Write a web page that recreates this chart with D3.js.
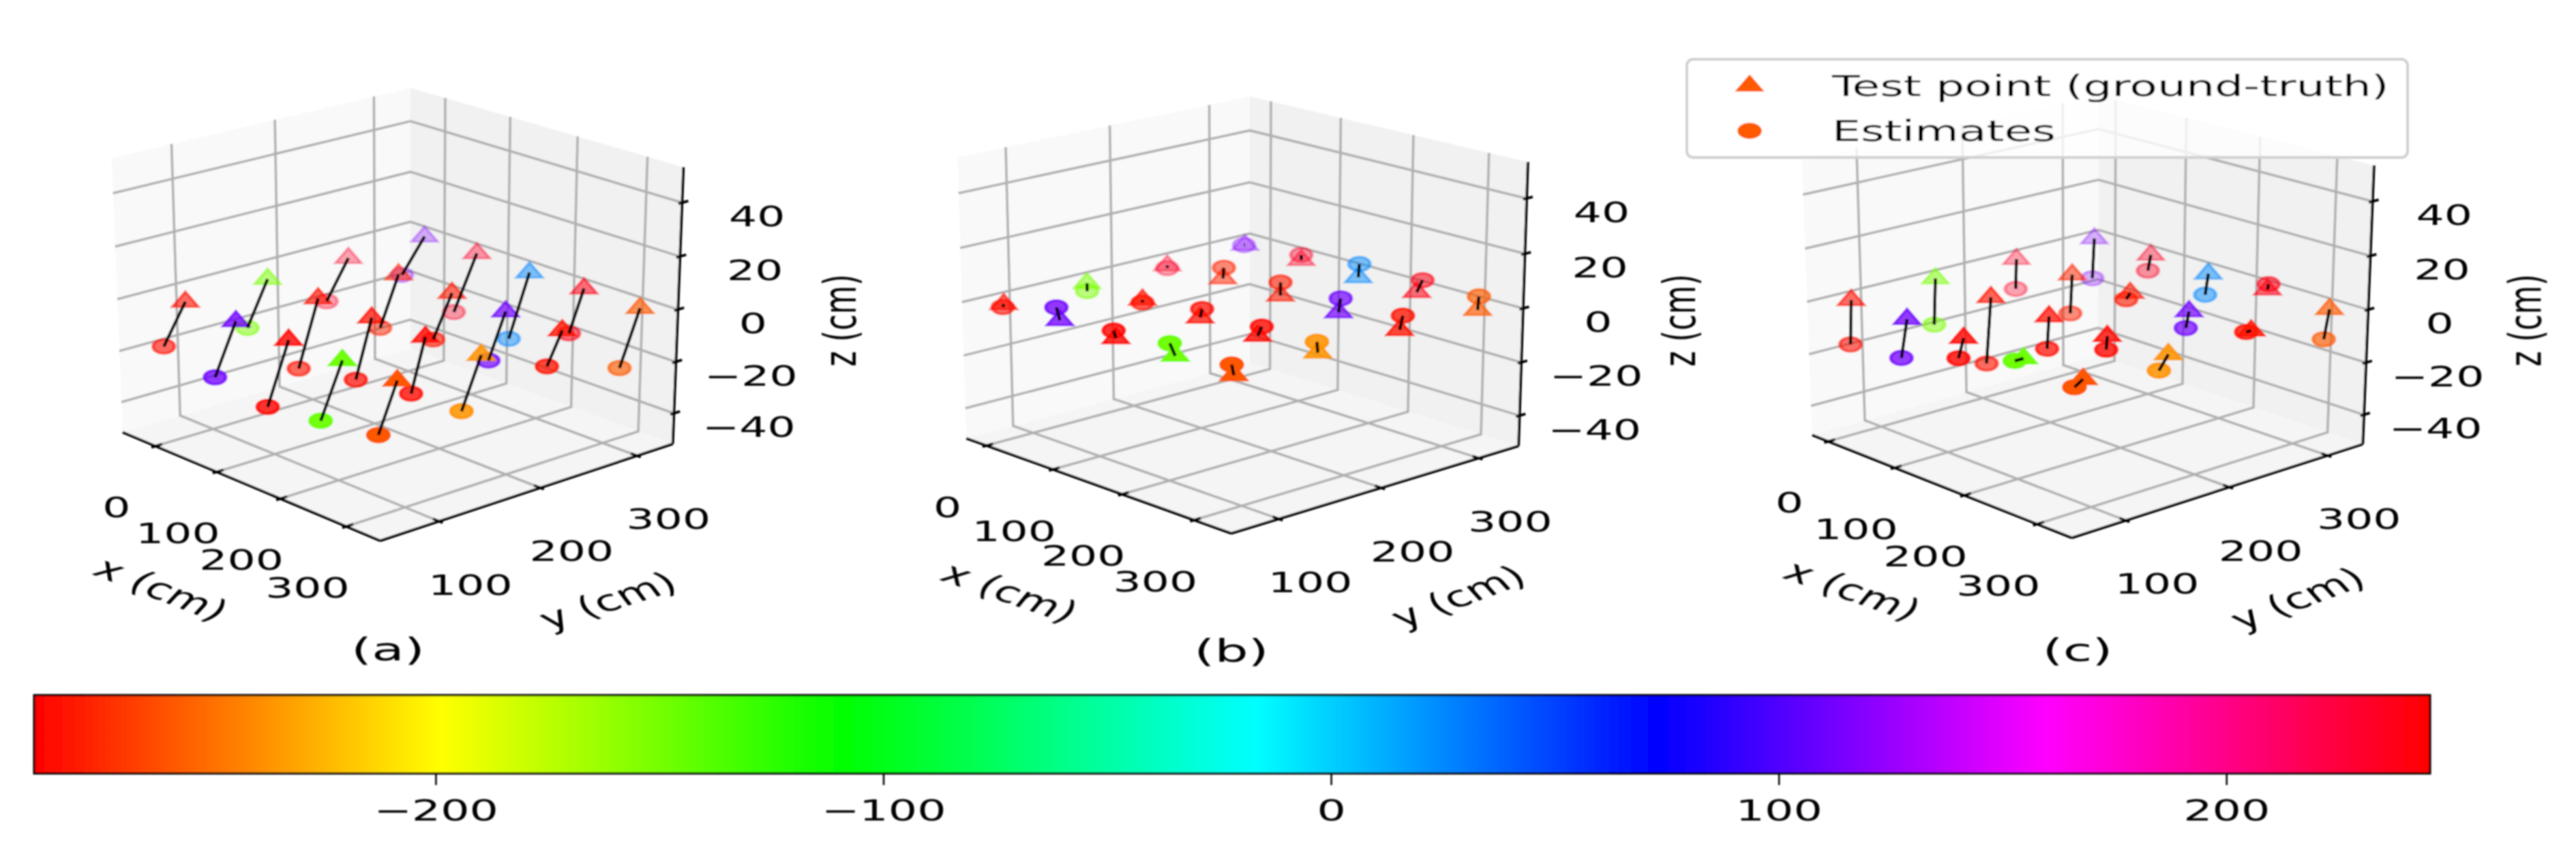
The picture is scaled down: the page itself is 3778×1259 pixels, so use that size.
<!DOCTYPE html>
<html>
<head>
<meta charset="utf-8">
<style>
  body { margin: 0; background: #fff; }
  text { font-family: "DejaVu Sans"; font-size: 41px; fill: #000; }
</style>
<script src="https://cdn.jsdelivr.net/npm/d3@7"></script>
</head>
<body>
<div id="chart"></div>
<script>
// test points, cm
var truthX = [-42,74,135,236,298, -37,67,144,213,285, -62,56,133,214,290, -38,44,130,201,286];
var truthY = [101,81,94,82,94, 179,165,169,177,184, 277,253,257,257,262, 342,343,340,348,346];
var truthZ = [-6,-1,-4,-1,-4, -5,-2,-3,-5,-6, -9,-3,-4,-4,-5, -5,-5,-5,-6,-6];

// estimates per panel (x is taken from the test point)
var estY = {
	a: [79,60,73,61,76, 158,145,153,163,165, 254,234,238,240,247, 318,319,319,333,326],
	b: [100,78,92,77,92, 179,165,171,181,183, 277,254,257,259,265, 341,343,341,354,347],
	c: [99,75,89,74,86, 177,160,167,176,175, 276,251,253,254,257, 340,340,337,349,341]
};
var estZ = {
	a: [-21,-20,-27,-21,-22, -22,-27,-25,-25,-25, -24,-22,-20,-21,-17, -18,-26,-29,-22,-27],
	b: [-7,4,-1,4,0, -8,-3,0,-2,-2, -10,1,1,1,0, -5,-3,0,-2,-1],
	c: [-23,-15,-11,-1,-6, -23,-27,-15,-10,-11, -21,-18,-6,-10,-5, -21,-11,-13,-4,-17]
};

// colour of each point, read on the colourbar
var pointValues = [-285,112,-288,-147,-259, -152,-283,-285,-287,-237, 232,-277,-280,112,-283, 118,232,25,238,-257];

var xTicks = [0, 100, 200, 300];
var yTicks = [100, 200, 300];
var zTicks = [-40, -20, 0, 20, 40];
var barTicks = [-200, -100, 0, 100, 200];
var barDomain = [-289.7, 245.5];
var barStops = [0, 0.17, 0.338, 0.51, 0.678, 0.84, 1];
var barColors = ["#ff0000", "#ffff00", "#00ff00", "#00ffff", "#0000ff", "#ff00ff", "#ff0000"];
var legendLabels = ["Test point (ground-truth)", "Estimates"];

// every panel: axis limits, cube corners in pixels and where its texts sit
var cubeCorners = [[0,0,0],[1,0,0],[1,1,0],[0,1,0],[0,0,1],[0,1,1],[1,1,1]];
var panels = [
	{ key: "a", caption: "(a)", captionAt: [569, 952],
		lims: [[-55,350],[44,338],[-52,53]],
		corners: [[179.7,634],[557.9,793.6],[986.5,651.2],[601.9,511.7],[163.8,232.1],[601.9,128.8],[1002.4,245.3]],
		xLabel: [237,864,31], yLabel: [891,881,-26], zLabel: [1231,470], zOffset: 110 },
	{ key: "b", caption: "(b)", captionAt: [1806, 954],
		lims: [[-31,350],[55,342],[-51.5,53]],
		corners: [[1417,642.5],[1806,783.1],[2226.9,654],[1832.8,532.8],[1404.2,230.9],[1832.8,141.3],[2240.9,237.8]],
		xLabel: [1481,869,28], yLabel: [2138,875,-30], zLabel: [2462,470], zOffset: 110 },
	{ key: "c", caption: "(c)", captionAt: [3047, 953],
		lims: [[-25,346],[50,337],[-51.4,53]],
		corners: [[2656.9,638.5],[3039.5,788.4],[3464.3,653.5],[3077.8,520.4],[2642.3,233.9],[3077.8,140.9],[3481.9,241.7]],
		xLabel: [2717,866,28], yLabel: [3369,878,-30], zLabel: [3702,470], zOffset: 105 }
];

var width = 3778, height = 1259, stretch = 1.5;

function solve(A, b) {
	var n = b.length, M = A.map(function(r, i) { return r.concat(b[i]); });
	for (var i = 0; i < n; i++) {
		var p = i;
		for (var k = i + 1; k < n; k++) if (Math.abs(M[k][i]) > Math.abs(M[p][i])) p = k;
		var t = M[i]; M[i] = M[p]; M[p] = t;
		for (k = 0; k < n; k++) if (k != i) {
			var f = M[k][i] / M[i][i];
			for (var j = i; j <= n; j++) M[k][j] -= f * M[i][j];
		}
	}
	return M.map(function(r, i) { return r[n] / r[i]; });
}

// least squares camera from the unit cube to the pixel corners
function fitCamera(corners) {
	var R = [], b = [];
	cubeCorners.forEach(function(q, i) {
		var u = corners[i][0] / 1000, v = corners[i][1] / 1000, X = q[0], Y = q[1], Z = q[2];
		R.push([X,Y,Z,1,0,0,0,0,-u*X,-u*Y,-u*Z]); b.push(u);
		R.push([0,0,0,0,X,Y,Z,1,-v*X,-v*Y,-v*Z]); b.push(v);
	});
	var idx = d3.range(11);
	var A = idx.map(function(i) { return idx.map(function(j) { return d3.sum(R, function(r) { return r[i] * r[j]; }); }); });
	var B = idx.map(function(i) { return d3.sum(R, function(r, k) { return r[i] * b[k]; }); });
	return solve(A, B);
}

var barColorScale = d3.scaleLinear().domain(barStops).range(barColors);

function pointColor(v) {
	return d3.color(barColorScale((v - barDomain[0]) / (barDomain[1] - barDomain[0]))).formatHex();
}

var svg = d3.select("#chart").append("svg")
	.attr("width", width)
	.attr("height", height)
	.style("display", "block");
var defs = svg.append("defs");
var blur = defs.append("filter").attr("id", "soft").attr("x", "-1%").attr("y", "-1%").attr("width", "102%").attr("height", "102%");
blur.append("feGaussianBlur").attr("stdDeviation", "1.1 0.8");
var root = svg.append("g").attr("filter", "url(#soft)");

function stretched(x, y, rot, s) {
	return "translate(" + x + "," + y + ") scale(" + (s || stretch) + ",1)" + (rot ? " rotate(" + rot + ")" : "");
}

var triangle = d3.symbol().type(d3.symbolTriangle).size(280)();
var circle = d3.symbol().type(d3.symbolCircle).size(340)();

panels.forEach(function(panel) {
	var P = fitCamera(panel.corners);
	var sx = d3.scaleLinear().domain(panel.lims[0]).range([0, 1]);
	var sy = d3.scaleLinear().domain(panel.lims[1]).range([0, 1]);
	var sz = d3.scaleLinear().domain(panel.lims[2]).range([0, 1]);
	var depth = function(q) { return P[8] * q[0] + P[9] * q[1] + P[10] * q[2] + 1; };
	var project = function(q) {
		var w = depth(q);
		return [1000 * (P[0] * q[0] + P[1] * q[1] + P[2] * q[2] + P[3]) / w,
			1000 * (P[4] * q[0] + P[5] * q[1] + P[6] * q[2] + P[7]) / w];
	};
	var toPixel = function(x, y, z) { return project([sx(x), sy(y), sz(z)]); };
	var line = d3.line();
	var g = root.append("g").attr("class", "panel " + panel.key);

	// panes
	var panes = [
		{ fill: "#f9f9f9", q: [[0,0,0],[0,1,0],[0,1,1],[0,0,1]] },
		{ fill: "#f1f1f1", q: [[0,1,0],[1,1,0],[1,1,1],[0,1,1]] },
		{ fill: "#f5f5f5", q: [[0,0,0],[1,0,0],[1,1,0],[0,1,0]] }
	];
	g.selectAll("path.pane").data(panes).enter().append("path")
		.attr("class", "pane")
		.attr("fill", function(d) { return d.fill; })
		.attr("d", function(d) { return line(d.q.map(project)) + "Z"; });

	// grid
	var lim = panel.lims;
	var gridPaths = [];
	xTicks.forEach(function(t) { gridPaths.push([[t,lim[1][0],lim[2][0]],[t,lim[1][1],lim[2][0]],[t,lim[1][1],lim[2][1]]]); });
	yTicks.forEach(function(t) { gridPaths.push([[lim[0][1],t,lim[2][0]],[lim[0][0],t,lim[2][0]],[lim[0][0],t,lim[2][1]]]); });
	zTicks.forEach(function(t) { gridPaths.push([[lim[0][0],lim[1][0],t],[lim[0][0],lim[1][1],t],[lim[0][1],lim[1][1],t]]); });
	g.selectAll("path.grid").data(gridPaths).enter().append("path")
		.attr("class", "grid")
		.attr("fill", "none")
		.attr("stroke", "#b0b0b0")
		.attr("stroke-width", 3.6)
		.attr("d", function(d) { return line(d.map(function(q) { return toPixel(q[0], q[1], q[2]); })); });

	// axis lines
	var axisPaths = [
		[[lim[0][0],lim[1][0],lim[2][0]],[lim[0][1],lim[1][0],lim[2][0]]],
		[[lim[0][1],lim[1][0],lim[2][0]],[lim[0][1],lim[1][1],lim[2][0]]],
		[[lim[0][1],lim[1][1],lim[2][0]],[lim[0][1],lim[1][1],lim[2][1]]]
	];
	var dy = (lim[1][1] - lim[1][0]) * 0.022, dx = (lim[0][1] - lim[0][0]) * 0.022;
	xTicks.forEach(function(t) { axisPaths.push([[t,lim[1][0]-dy*0.6,lim[2][0]],[t,lim[1][0]+dy,lim[2][0]]]); });
	yTicks.forEach(function(t) { axisPaths.push([[lim[0][1]+dx*0.6,t,lim[2][0]],[lim[0][1]-dx,t,lim[2][0]]]); });
	zTicks.forEach(function(t) { axisPaths.push([[lim[0][1],lim[1][1]-dy*0.6,t],[lim[0][1],lim[1][1]+dy,t]]); });
	g.selectAll("path.axis").data(axisPaths).enter().append("path")
		.attr("class", "axis")
		.attr("fill", "none")
		.attr("stroke", "#000")
		.attr("stroke-width", 3.8)
		.attr("d", function(d) { return line(d.map(function(q) { return toPixel(q[0], q[1], q[2]); })); });

	// tick labels
	var fmt = d3.format("d");
	var labels = [];
	xTicks.forEach(function(t) { var p = toPixel(t, lim[1][0], lim[2][0]); labels.push({ t: t, x: p[0] - 57, y: p[1] + 90 }); });
	yTicks.forEach(function(t) { var p = toPixel(lim[0][1], t, lim[2][0]); labels.push({ t: t, x: p[0] + 46, y: p[1] + 93 }); });
	zTicks.forEach(function(t) { var p = toPixel(lim[0][1], lim[1][1], t); labels.push({ t: t, x: p[0] + panel.zOffset, y: p[1] + 20 }); });
	g.selectAll("text.tick").data(labels).enter().append("text")
		.attr("class", "tick")
		.attr("text-anchor", "middle")
		.attr("dy", "0.36em")
		.attr("transform", function(d) { return stretched(d.x, d.y, 0, 1.58); })
		.text(function(d) { return fmt(d.t); });

	// axis titles
	var titles = [
		{ s: "x (cm)", at: panel.xLabel },
		{ s: "y (cm)", at: panel.yLabel },
		{ s: "z (cm)", at: panel.zLabel.concat(-90) }
	];
	g.selectAll("text.title").data(titles).enter().append("text")
		.attr("class", "title")
		.attr("text-anchor", "middle")
		.attr("dy", "0.36em")
		.style("font-size", "43px")
		.attr("transform", function(d) { return stretched(d.at[0], d.at[1], d.at[2], 1.55); })
		.text(function(d) { return d.s; });

	// caption
	g.append("text")
		.attr("class", "caption")
		.attr("text-anchor", "middle")
		.attr("dy", "0.36em")
		.style("font-size", "47px")
		.attr("transform", stretched(panel.captionAt[0], panel.captionAt[1], 0, 1.65))
		.text(panel.caption);

	// points
	var rows = d3.range(truthX.length).map(function(i) {
		var t = [sx(truthX[i]), sy(truthY[i]), sz(truthZ[i])];
		var e = [sx(truthX[i]), sy(estY[panel.key][i]), sz(estZ[panel.key][i])];
		return { color: pointColor(pointValues[i]), truth: project(t), est: project(e), dT: depth(t), dE: depth(e) };
	});
	var alphaT = d3.scaleLinear().domain(d3.extent(rows, function(d) { return d.dT; })).range([1, 0.3]);
	var alphaE = d3.scaleLinear().domain(d3.extent(rows, function(d) { return d.dE; })).range([1, 0.3]);

	g.selectAll("path.est").data(rows).enter().append("path")
		.attr("class", "est")
		.attr("d", circle)
		.attr("fill", function(d) { return d.color; })
		.attr("stroke", function(d) { return d.color; })
		.attr("stroke-width", 3.5)
		.attr("fill-opacity", function(d) { return alphaE(d.dE); })
		.attr("stroke-opacity", function(d) { return alphaE(d.dE); })
		.attr("transform", function(d) { return stretched(d.est[0], d.est[1]); });
	g.selectAll("path.truth").data(rows).enter().append("path")
		.attr("class", "truth")
		.attr("d", triangle)
		.attr("fill", function(d) { return d.color; })
		.attr("stroke", function(d) { return d.color; })
		.attr("stroke-width", 3)
		.attr("fill-opacity", function(d) { return alphaT(d.dT); })
		.attr("stroke-opacity", function(d) { return alphaT(d.dT); })
		.attr("transform", function(d) { return stretched(d.truth[0], d.truth[1]); });
	g.selectAll("path.error").data(rows).enter().append("path")
		.attr("class", "error")
		.attr("fill", "none")
		.attr("stroke", "#000")
		.attr("stroke-width", 4.5)
		.attr("d", function(d) { return line([d.truth, d.est]); });
});

// legend
var legend = root.append("g").attr("class", "legend");
legend.append("rect")
	.attr("x", 2474).attr("y", 87).attr("width", 1057).attr("height", 144).attr("rx", 9)
	.attr("fill", "#fff").attr("fill-opacity", 0.8)
	.attr("stroke", "#d0d0d0").attr("stroke-width", 4);
var legendRows = legend.selectAll("g").data(legendLabels).enter().append("g")
	.attr("transform", function(d, i) { return "translate(0," + (126 + i * 66) + ")"; });
legendRows.append("path")
	.attr("d", function(d, i) { return d3.symbol().type(i ? d3.symbolCircle : d3.symbolTriangle).size(i ? 440 : 360)(); })
	.attr("fill", "#ff5a00")
	.attr("transform", "translate(2566,0) scale(" + stretch + ",1)");
legendRows.append("text")
	.attr("dy", "0.36em")
	.style("font-size", "43px")
	.attr("transform", "translate(2687,0) scale(1.545,1)")
	.text(function(d) { return d; });

// colourbar
var barScale = d3.scaleLinear().domain(barDomain).range([50, 3564]);
var grad = defs.append("linearGradient").attr("id", "hsvBar");
grad.selectAll("stop").data(barStops).enter().append("stop")
	.attr("offset", function(d) { return d; })
	.attr("stop-color", function(d, i) { return barColors[i]; });
root.append("rect")
	.attr("x", barScale.range()[0]).attr("y", 1020)
	.attr("width", barScale.range()[1] - barScale.range()[0]).attr("height", 115)
	.attr("fill", "url(#hsvBar)")
	.attr("stroke", "#000").attr("stroke-width", 3);
var barAxis = root.append("g")
	.attr("transform", "translate(0,1135)")
	.call(d3.axisBottom(barScale).tickValues(barTicks).tickSize(17).tickSizeOuter(0).tickFormat(d3.format("d")));
barAxis.select(".domain").remove();
barAxis.selectAll(".tick line").attr("stroke", "#000").attr("stroke-width", 2.5);
barAxis.selectAll(".tick text")
	.attr("y", 0).attr("dy", 0)
	.attr("text-anchor", "middle")
	.style("font-family", "DejaVu Sans").style("font-size", "43px")
	.attr("transform", "translate(0,69) scale(1.55,1)");
</script>
</body>
</html>
